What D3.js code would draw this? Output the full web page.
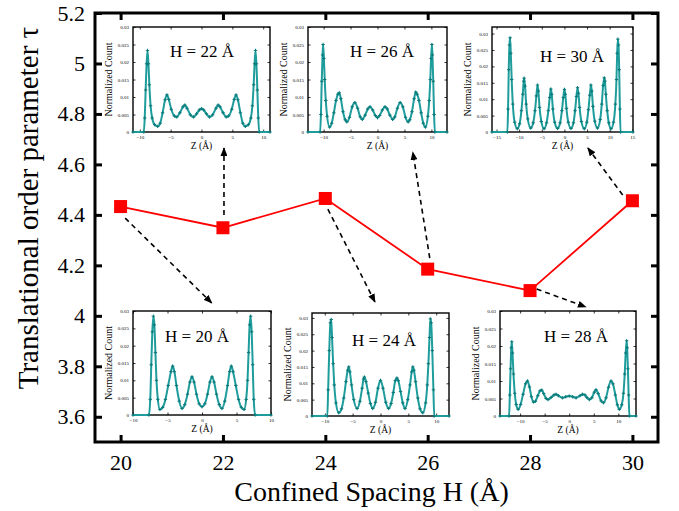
<!DOCTYPE html>
<html>
<head>
<meta charset="utf-8">
<script src="https://cdn.jsdelivr.net/npm/d3@7"></script>
<style>
  body { margin: 0; background: #fff; }
  svg { display: block; }
  text { font-family: "Liberation Serif", "Times New Roman", serif; fill: #000; }
</style>
</head>
<body>
<svg id="chart" width="679" height="511"></svg>
<script>
// main series
const spacing = [20, 22, 24, 26, 28, 30];
const tau = [4.433, 4.349, 4.465, 4.185, 4.10, 4.456];
const xTicks = [20, 22, 24, 26, 28, 30];
const yTicks = [3.6, 3.8, 4, 4.2, 4.4, 4.6, 4.8, 5, 5.2];

// density profiles: [z, normalized count]
const prof20 = [[-10,0],[-7.7,0],[-7.5,0.0045],[-7.35,0.0145],[-7.2,0.024],[-7.05,0.0285],[-6.9,0.026],[-6.75,0.018],[-6.6,0.01],[-6.4,0.0045],[-6.1,0.0016],[-5.7,0.0022],[-5.3,0.0045],[-4.9,0.0085],[-4.5,0.0125],[-4.25,0.0141],[-4.0,0.0125],[-3.7,0.0085],[-3.3,0.004],[-2.9,0.0019],[-2.5,0.003],[-2.1,0.006],[-1.75,0.0095],[-1.45,0.011],[-1.15,0.0095],[-0.8,0.006],[-0.4,0.0032],[0,0.0024],[0.4,0.0032],[0.8,0.006],[1.15,0.0095],[1.45,0.011],[1.75,0.0095],[2.1,0.006],[2.5,0.003],[2.9,0.0019],[3.3,0.004],[3.7,0.0085],[4.0,0.0125],[4.25,0.0141],[4.5,0.0125],[4.9,0.0085],[5.3,0.0045],[5.7,0.0022],[6.1,0.0016],[6.4,0.0045],[6.6,0.01],[6.75,0.018],[6.9,0.026],[7.05,0.0285],[7.2,0.024],[7.35,0.0145],[7.5,0.0045],[7.7,0],[10,0]];
const prof22 = [[-11.1,0],[-9.35,0],[-9.2,0.004],[-9.05,0.012],[-8.9,0.0195],[-8.75,0.0233],[-8.6,0.0195],[-8.45,0.0135],[-8.25,0.0075],[-8.0,0.004],[-7.6,0.0021],[-7.1,0.0016],[-6.7,0.0025],[-6.3,0.0055],[-5.9,0.0092],[-5.6,0.0106],[-5.3,0.0093],[-4.9,0.0065],[-4.4,0.0046],[-4.0,0.0043],[-3.5,0.0055],[-3.0,0.0072],[-2.7,0.0077],[-2.35,0.0068],[-1.8,0.0049],[-1.3,0.0043],[-0.8,0.0052],[-0.35,0.0063],[0,0.0067],[0.35,0.0063],[0.8,0.0052],[1.3,0.0043],[1.8,0.0049],[2.35,0.0068],[2.7,0.0077],[3.0,0.0072],[3.5,0.0055],[4.0,0.0043],[4.4,0.0046],[4.9,0.0065],[5.3,0.0093],[5.6,0.0106],[5.9,0.0092],[6.3,0.0055],[6.7,0.0025],[7.1,0.0016],[7.6,0.0021],[8.0,0.004],[8.25,0.0075],[8.45,0.0135],[8.6,0.0195],[8.75,0.0233],[8.9,0.0195],[9.05,0.012],[9.2,0.004],[9.35,0],[11.1,0]];
const prof24 = [[-12.3,0],[-9.55,0],[-9.4,0.008],[-9.2,0.02],[-9.0,0.0285],[-8.85,0.0295],[-8.7,0.024],[-8.5,0.016],[-8.3,0.0095],[-8.0,0.004],[-7.5,0.001],[-7.0,0.0022],[-6.6,0.0055],[-6.2,0.0105],[-5.9,0.014],[-5.7,0.015],[-5.5,0.0135],[-5.2,0.0095],[-4.8,0.005],[-4.2,0.0023],[-3.7,0.0045],[-3.3,0.0085],[-3.05,0.0113],[-2.9,0.0119],[-2.6,0.0105],[-2.2,0.007],[-1.8,0.0038],[-1.4,0.0023],[-0.9,0.0042],[-0.45,0.0085],[0,0.0109],[0.45,0.0085],[0.95,0.0042],[1.45,0.0023],[1.9,0.0038],[2.3,0.0072],[2.65,0.0108],[2.95,0.0116],[3.2,0.0108],[3.6,0.0075],[4.0,0.004],[4.4,0.0023],[4.9,0.005],[5.3,0.0095],[5.6,0.0135],[5.8,0.015],[6.0,0.014],[6.3,0.0105],[6.7,0.0055],[7.1,0.0022],[7.6,0.001],[8.1,0.004],[8.4,0.0095],[8.6,0.016],[8.8,0.024],[8.95,0.0297],[9.1,0.0285],[9.3,0.02],[9.5,0.008],[9.65,0],[12.3,0]];
const prof26 = [[-12.9,0],[-10.65,0],[-10.5,0.005],[-10.35,0.0145],[-10.2,0.022],[-10.1,0.025],[-9.95,0.021],[-9.8,0.015],[-9.6,0.009],[-9.35,0.0045],[-8.9,0.0014],[-8.5,0.0025],[-8.1,0.0055],[-7.7,0.009],[-7.35,0.0108],[-7.1,0.0112],[-6.8,0.0095],[-6.4,0.0058],[-6.0,0.0035],[-5.7,0.0029],[-5.2,0.0042],[-4.7,0.0072],[-4.2,0.0084],[-3.7,0.0068],[-3.2,0.0043],[-2.8,0.0036],[-2.3,0.0048],[-1.8,0.0066],[-1.4,0.0072],[-0.9,0.0063],[-0.4,0.0047],[0,0.0041],[0.4,0.0047],[0.9,0.0063],[1.4,0.0072],[1.8,0.0066],[2.3,0.0048],[2.8,0.0036],[3.2,0.0043],[3.7,0.0068],[4.2,0.0084],[4.7,0.0072],[5.2,0.0042],[5.7,0.0029],[6.0,0.0035],[6.4,0.0058],[6.8,0.0095],[7.1,0.0114],[7.35,0.0108],[7.7,0.009],[8.1,0.0055],[8.5,0.0025],[8.9,0.0014],[9.35,0.0045],[9.6,0.009],[9.8,0.015],[9.95,0.021],[10.1,0.025],[10.2,0.022],[10.35,0.0145],[10.5,0.005],[10.65,0],[12.9,0]];
const prof28 = [[-14.1,0],[-12.25,0],[-12.1,0.006],[-11.95,0.0135],[-11.8,0.0195],[-11.7,0.0212],[-11.55,0.018],[-11.35,0.012],[-11.1,0.0065],[-10.8,0.0033],[-10.4,0.0019],[-9.9,0.0033],[-9.4,0.0062],[-8.9,0.0092],[-8.5,0.01],[-8.1,0.0083],[-7.7,0.0055],[-7.3,0.004],[-6.9,0.0042],[-6.4,0.0058],[-5.95,0.0072],[-5.6,0.0074],[-5.2,0.0064],[-4.7,0.005],[-4.3,0.0047],[-3.7,0.0053],[-3.1,0.006],[-2.7,0.0062],[-2.2,0.0058],[-1.4,0.0052],[-0.7,0.0055],[0,0.0057],[0.7,0.0055],[1.4,0.0052],[2.2,0.0058],[2.7,0.0062],[3.2,0.006],[3.6,0.0053],[4.1,0.0047],[4.6,0.0052],[5.1,0.0068],[5.45,0.0075],[5.9,0.0064],[6.5,0.0043],[7.0,0.0038],[7.5,0.0052],[8.0,0.0082],[8.5,0.01],[8.9,0.0092],[9.4,0.006],[9.8,0.0032],[10.2,0.0019],[10.7,0.0032],[11.05,0.0065],[11.3,0.012],[11.5,0.018],[11.7,0.0215],[11.8,0.0195],[11.95,0.0135],[12.1,0.006],[12.25,0],[13.6,0]];
const prof30 = [[-16,0],[-12.6,0],[-12.45,0.007],[-12.3,0.019],[-12.15,0.0265],[-12.0,0.0287],[-11.85,0.024],[-11.65,0.016],[-11.4,0.0085],[-11.0,0.003],[-10.4,0.001],[-9.9,0.0025],[-9.5,0.0065],[-9.2,0.0115],[-9.0,0.0155],[-8.9,0.0164],[-8.7,0.014],[-8.45,0.0085],[-8.1,0.004],[-7.45,0.0012],[-6.9,0.0028],[-6.5,0.0065],[-6.2,0.011],[-5.95,0.0143],[-5.75,0.0125],[-5.5,0.0075],[-5.1,0.0032],[-4.5,0.001],[-3.95,0.0028],[-3.55,0.0065],[-3.25,0.0105],[-3.0,0.0131],[-2.8,0.0115],[-2.55,0.007],[-2.15,0.003],[-1.5,0.0011],[-0.95,0.0028],[-0.55,0.0065],[-0.25,0.0105],[0,0.013],[0.2,0.0115],[0.45,0.0072],[0.85,0.003],[1.45,0.0011],[2.0,0.0028],[2.35,0.0065],[2.65,0.0108],[2.9,0.0135],[3.1,0.0118],[3.35,0.0075],[3.75,0.0032],[4.4,0.001],[4.95,0.003],[5.3,0.0068],[5.6,0.0112],[5.85,0.0143],[6.05,0.0125],[6.3,0.0078],[6.7,0.0033],[7.3,0.0012],[7.9,0.0038],[8.25,0.0085],[8.55,0.0142],[8.8,0.0165],[8.95,0.0155],[9.15,0.0115],[9.45,0.0065],[9.8,0.0028],[10.3,0.001],[10.85,0.003],[11.25,0.0085],[11.5,0.016],[11.65,0.024],[11.8,0.0283],[11.95,0.0265],[12.1,0.019],[12.25,0.007],[12.4,0],[15.15,0]];

const countTicks = [0, 0.005, 0.01, 0.015, 0.02, 0.025, 0.03];
const zTicks10 = [-10, -5, 0, 5, 10];
const zTicks15 = [-15, -10, -5, 0, 5, 10, 15];

// dashed arrows in data units: [H0, tau0, H1, tau1]
const arrows = [
  [20.09, 4.387, 21.78, 4.051],
  [22.02, 4.40, 22.02, 4.665],
  [24.05, 4.423, 24.97, 4.055],
  [26.04, 4.229, 25.71, 4.649],
  [28.13, 4.106, 29.09, 4.035],
  [29.81, 4.479, 29.13, 4.665]
];

const svg = d3.select("#chart");
const mLeft = 95, mRight = 658, mTop = 13, mBottom = 442;

const x = d3.scaleLinear().domain([19.5, 30.5]).range([mLeft, mRight]);
const y = d3.scaleLinear().domain([3.5, 5.2]).range([mBottom, mTop]);

// axes, ticks pointing inward
const axL = svg.append("g").attr("transform", `translate(${mLeft},0)`)
  .call(d3.axisLeft(y).tickValues(yTicks).tickFormat(d3.format("")).tickSize(-7).tickPadding(10));
const axB = svg.append("g").attr("transform", `translate(0,${mBottom})`)
  .call(d3.axisBottom(x).tickValues(xTicks).tickSize(-7).tickPadding(12));
const axT = svg.append("g").attr("transform", `translate(0,${mTop})`)
  .call(d3.axisTop(x).tickValues(xTicks).tickFormat("").tickSize(-7));
const axR = svg.append("g").attr("transform", `translate(${mRight},0)`)
  .call(d3.axisRight(y).tickValues(yTicks).tickFormat("").tickSize(-7));

[axL, axB, axT, axR].forEach(a => {
  a.select(".domain").remove();
  a.selectAll(".tick line").attr("stroke", "#000").attr("stroke-width", 3);
  a.selectAll("text").style("font-size", "22px").attr("fill", "#000");
});

svg.append("rect")
  .attr("x", mLeft).attr("y", mTop)
  .attr("width", mRight - mLeft).attr("height", mBottom - mTop)
  .attr("fill", "none").attr("stroke", "#000").attr("stroke-width", 3);

// axis titles
svg.append("text")
  .attr("x", (mLeft + mRight) / 2 - 5).attr("y", 501)
  .attr("text-anchor", "middle")
  .style("font-size", "28px")
  .text("Confined Spacing H (Å)");

svg.append("text")
  .attr("transform", "translate(38,208) rotate(-90)")
  .attr("text-anchor", "middle")
  .style("font-size", "29px")
  .text("Translational order parameter τ");

// main series
const pts = spacing.map((h, i) => [h, tau[i]]);
svg.append("path")
  .datum(pts)
  .attr("fill", "none")
  .attr("stroke", "#ff0000")
  .attr("stroke-width", 1.8)
  .attr("d", d3.line().x(d => x(d[0])).y(d => y(d[1])));

svg.selectAll(".sq")
  .data(pts)
  .enter()
  .append("rect")
  .attr("class", "sq")
  .attr("x", d => x(d[0]) - 6.5)
  .attr("y", d => y(d[1]) - 6.5)
  .attr("width", 13).attr("height", 13)
  .attr("fill", "#ff0000");

// insets
const insets = [
  { h: 22, prof: prof22, zDom: [-11.1, 11.1], yMax: 0.03, zt: zTicks10, box: [133, 27, 270, 132], lab: [202, 57] },
  { h: 26, prof: prof26, zDom: [-12.9, 12.9], yMax: 0.03, zt: zTicks10, box: [308, 27, 447, 132], lab: [382, 57] },
  { h: 30, prof: prof30, zDom: [-16, 15.15], yMax: 0.032, zt: zTicks15, box: [492, 27, 633, 132], lab: [572, 62] },
  { h: 20, prof: prof20, zDom: [-10, 10], yMax: 0.03, zt: zTicks10, box: [133, 311, 271, 415], lab: [197, 342] },
  { h: 24, prof: prof24, zDom: [-12.3, 12.3], yMax: 0.0315, zt: zTicks10, box: [312, 313, 449, 416], lab: [384, 346] },
  { h: 28, prof: prof28, zDom: [-14.1, 13.6], yMax: 0.03, zt: zTicks10, box: [500, 311, 636, 416], lab: [576, 342] }
];

insets.forEach(o => {
  const [x0, y0, x1, y1] = o.box;
  const g = svg.append("g");
  const zx = d3.scaleLinear().domain(o.zDom).range([x0, x1]);
  const zy = d3.scaleLinear().domain([0, o.yMax]).range([y1, y0]);

  g.append("rect")
    .attr("x", x0).attr("y", y0).attr("width", x1 - x0).attr("height", y1 - y0)
    .attr("fill", "#fff").attr("stroke", "#000").attr("stroke-width", 1.4);

  const ib = g.append("g").attr("transform", `translate(0,${y1})`)
    .call(d3.axisBottom(zx).tickValues(o.zt).tickSize(-2.5).tickPadding(3));
  const it = g.append("g").attr("transform", `translate(0,${y0})`)
    .call(d3.axisTop(zx).tickValues(o.zt).tickFormat("").tickSize(-2.5));
  const il = g.append("g").attr("transform", `translate(${x0},0)`)
    .call(d3.axisLeft(zy).tickValues(countTicks).tickFormat(d => d === 0 ? "0" : d3.format("")(d)).tickSize(-2.5).tickPadding(4));
  const ir = g.append("g").attr("transform", `translate(${x1},0)`)
    .call(d3.axisRight(zy).tickValues(countTicks).tickFormat("").tickSize(-2.5));
  [ib, it, il, ir].forEach(a => {
    a.select(".domain").remove();
    a.selectAll(".tick line").attr("stroke", "#000").attr("stroke-width", 0.8);
    a.selectAll("text").style("font-size", "5px").attr("fill", "#000");
  });

  g.append("text")
    .attr("transform", `translate(${x0 - 21},${(y0 + y1) / 2}) rotate(-90)`)
    .attr("text-anchor", "middle")
    .style("font-size", "10px")
    .text("Normalized Count");

  g.append("text")
    .attr("x", (x0 + x1) / 2).attr("y", y1 + 17)
    .attr("text-anchor", "middle")
    .style("font-size", "9.5px")
    .text("Z (Å)");

  g.append("path")
    .datum(o.prof)
    .attr("fill", "none")
    .attr("stroke", "#1f9c9c")
    .attr("stroke-width", 2)
    .attr("d", d3.line().curve(d3.curveMonotoneX).x(d => zx(d[0])).y(d => zy(d[1])));

  g.selectAll(".pm")
    .data(o.prof)
    .enter()
    .append("path")
    .attr("class", "pm")
    .attr("transform", d => `translate(${zx(d[0])},${zy(d[1])})`)
    .attr("d", "M-1.7,0H1.7M0,-1.7V1.7")
    .attr("stroke", "#0a7a7a")
    .attr("stroke-width", 1);

  g.append("text")
    .attr("x", o.lab[0]).attr("y", o.lab[1])
    .attr("text-anchor", "middle")
    .style("font-size", "17px")
    .text(`H = ${o.h} Å`);
});

// arrowhead
svg.append("defs").append("marker")
  .attr("id", "head")
  .attr("viewBox", "0 0 10 8")
  .attr("refX", 9).attr("refY", 4)
  .attr("markerWidth", 9).attr("markerHeight", 7)
  .attr("markerUnits", "userSpaceOnUse")
  .attr("orient", "auto")
  .append("path")
  .attr("d", "M0,0L10,4L0,8z")
  .attr("fill", "#000");

svg.selectAll(".arr")
  .data(arrows)
  .enter()
  .append("line")
  .attr("class", "arr")
  .attr("x1", d => x(d[0])).attr("y1", d => y(d[1]))
  .attr("x2", d => x(d[2])).attr("y2", d => y(d[3]))
  .attr("stroke", "#000")
  .attr("stroke-width", 1.6)
  .attr("stroke-dasharray", "5,4")
  .attr("marker-end", "url(#head)");
</script>
</body>
</html>
